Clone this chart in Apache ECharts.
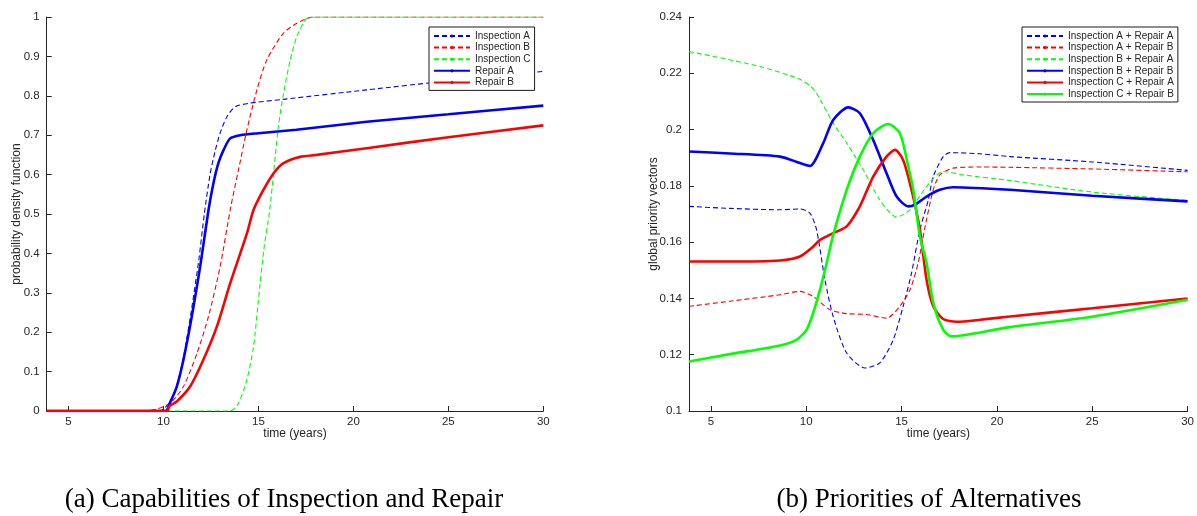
<!DOCTYPE html>
<html>
<head>
<meta charset="utf-8">
<script src="https://cdn.jsdelivr.net/npm/echarts@6/dist/echarts.min.js"></script>
<style>
  html, body { margin: 0; background: #fff; }
  #main { width: 1197px; height: 516px; }
</style>
</head>
<body>
<div id="main"></div>
<script>
// x ticks shared by both panels
var xTicks = [5, 10, 15, 20, 25, 30];

// (a) capabilities
var inspA_t = [3.85, 9.8, 10.0, 10.35, 10.7, 11.05, 11.45, 11.85, 12.15, 12.45, 12.72, 12.98, 13.34, 13.77, 14.5, 16.3, 20.7, 25, 30];
var inspA_v = [0, 0, 0.005, 0.024, 0.065, 0.135, 0.25, 0.38, 0.5, 0.6, 0.66, 0.705, 0.747, 0.772, 0.781, 0.791, 0.815, 0.838, 0.862];
var inspB_t = [3.85, 9.0, 9.65, 10.35, 11.05, 11.76, 12.37, 12.98, 13.55, 13.95, 14.39, 14.92, 15.44, 16.3, 17.02, 17.9, 30];
var inspB_v = [0, 0, 0.005, 0.02, 0.062, 0.146, 0.24, 0.366, 0.52, 0.612, 0.713, 0.815, 0.891, 0.958, 0.984, 1.0, 1.0];
var inspC_t = [3.85, 13.5, 13.95, 14.39, 14.74, 15.0, 15.28, 15.58, 15.83, 16.05, 16.32, 16.67, 17.02, 17.55, 18.0, 30];
var inspC_v = [0, 0, 0.02, 0.079, 0.163, 0.282, 0.409, 0.505, 0.62, 0.722, 0.806, 0.89, 0.95, 0.997, 1.0, 1.0];
var repA_t = [3.85, 10.1, 10.35, 10.7, 11.05, 11.49, 11.93, 12.37, 12.63, 12.89, 13.16, 13.51, 14.04, 15, 17, 20.7, 25, 30];
var repA_v = [0, 0, 0.022, 0.062, 0.13, 0.24, 0.366, 0.51, 0.578, 0.629, 0.662, 0.692, 0.70, 0.705, 0.714, 0.734, 0.753, 0.775];
var repB_t = [3.85, 10.2, 10.3, 10.7, 11.4, 12.1, 12.81, 13.51, 14.39, 14.74, 15.26, 15.79, 16.32, 17.19, 18.07, 20.7, 25, 30];
var repB_v = [0, 0, 0.012, 0.024, 0.062, 0.13, 0.214, 0.324, 0.45, 0.51, 0.561, 0.603, 0.629, 0.645, 0.65, 0.667, 0.695, 0.725];

// (b) priorities
var iaRa_t = [3.85, 6, 8.62, 9.67, 10.19, 10.54, 10.98, 11.41, 12.12, 13.08, 13.86, 14.56, 15.08, 15.52, 15.96, 16.4, 16.66, 17.18, 17.53, 19.11, 20.68, 25, 30];
var iaRa_v = [0.1727, 0.172, 0.1715, 0.1718, 0.1703, 0.1644, 0.1466, 0.1336, 0.1206, 0.1153, 0.1171, 0.1253, 0.1372, 0.149, 0.1644, 0.175, 0.1833, 0.1904, 0.1918, 0.1914, 0.1904, 0.1885, 0.1855];
var iaRb_t = [3.85, 6, 8.62, 9.67, 10.36, 11.24, 12.12, 13.16, 14.21, 14.91, 15.44, 15.87, 16.2, 16.66, 17.01, 17.71, 19.11, 20.68, 25, 30];
var iaRb_v = [0.1372, 0.139, 0.1413, 0.1425, 0.1407, 0.136, 0.1346, 0.1343, 0.133, 0.1372, 0.1431, 0.1526, 0.1644, 0.1786, 0.1839, 0.1863, 0.1867, 0.1866, 0.186, 0.185];
var ibRa_t = [3.85, 5.5, 7.57, 9.0, 9.67, 10.2, 10.54, 11.41, 12.12, 12.99, 13.86, 14.74, 15.44, 16.31, 17.18, 18.23, 20.68, 25, 30];
var ibRa_v = [0.2277, 0.2255, 0.2224, 0.2195, 0.2179, 0.2155, 0.2129, 0.2023, 0.1952, 0.1857, 0.175, 0.1689, 0.1715, 0.1798, 0.1851, 0.1839, 0.1819, 0.1778, 0.1748];
var ibRb_t = [3.85, 6, 8.62, 9.67, 10.19, 10.89, 11.41, 12.2, 12.81, 13.51, 14.21, 14.74, 15.35, 15.7, 16.31, 17.01, 17.71, 20.68, 25, 30];
var ibRb_v = [0.1922, 0.1915, 0.1904, 0.1881, 0.1871, 0.1952, 0.2034, 0.2079, 0.2058, 0.1963, 0.1845, 0.1762, 0.1727, 0.1733, 0.1762, 0.1786, 0.1795, 0.1786, 0.1765, 0.1745];
var icRa_t = [3.85, 6, 8.62, 9.67, 10.36, 10.72, 11.41, 12.12, 12.81, 13.51, 14.21, 14.65, 15.08, 15.52, 15.96, 16.31, 16.66, 17.18, 17.88, 19.11, 20.68, 25, 30];
var icRa_v = [0.1531, 0.1531, 0.1535, 0.1549, 0.1584, 0.1608, 0.1632, 0.1656, 0.1727, 0.1833, 0.1904, 0.1928, 0.1892, 0.1786, 0.1644, 0.1466, 0.1372, 0.1327, 0.1317, 0.1324, 0.1336, 0.1365, 0.140];
var icRb_t = [3.85, 6, 8.62, 9.49, 10.02, 10.36, 10.72, 11.07, 11.41, 12.12, 12.81, 13.51, 14.3, 14.91, 15.35, 15.61, 15.96, 16.31, 16.66, 17.18, 17.62, 18.41, 20.68, 25, 30];
var icRb_v = [0.1176, 0.1202, 0.1233, 0.1253, 0.1289, 0.1348, 0.1431, 0.1526, 0.1625, 0.1786, 0.1904, 0.1987, 0.202, 0.1987, 0.1869, 0.1786, 0.162, 0.1526, 0.1384, 0.1289, 0.1265, 0.1271, 0.1298, 0.1335, 0.1395];

var BLUE = "#0000ff", RED = "#ff0000", GREEN = "#00ff00", INK = "#262626";
var FONT = "'Liberation Sans', Arial, Helvetica, sans-serif";
var CAPTION_FONT = "27px 'Liberation Serif', 'DejaVu Serif', serif";

function pairs(t, v) {
  return t.map(function (x, i) { return [x, v[i]]; });
}

function dashed(name, color, t, v, idx) {
  return {
    name: name, type: "line", xAxisIndex: idx, yAxisIndex: idx,
    data: pairs(t, v), smooth: 0.25,
    symbol: "none", lineStyle: { color: color, width: 1.1, type: [5, 3] },
    itemStyle: { color: color }
  };
}

function solid(name, color, t, v, idx) {
  return {
    name: name, type: "line", xAxisIndex: idx, yAxisIndex: idx,
    data: pairs(t, v), smooth: 0.25,
    symbol: "circle", symbolSize: 3, showSymbol: false,
    lineStyle: { color: color, width: 2.6 },
    itemStyle: { color: color }
  };
}

function xAxisOf(idx) {
  return {
    type: "value", gridIndex: idx, min: 3.85, max: 30,
    name: "time (years)", nameLocation: "middle", nameGap: 17, nameMoveOverlap: false,
    nameTextStyle: { color: INK, fontSize: 12, fontFamily: FONT },
    axisLine: { lineStyle: { color: INK, width: 1 } },
    axisTick: { inside: true, length: 5, customValues: xTicks, lineStyle: { color: INK } },
    axisLabel: { customValues: xTicks, color: INK, fontSize: 11.5, fontFamily: FONT, margin: 5 },
    splitLine: { show: false }
  };
}

function yAxisOf(idx, min, max, step, name, gap) {
  return {
    type: "value", gridIndex: idx, min: min, max: max, interval: step,
    name: name, nameLocation: "middle", nameGap: gap, nameMoveOverlap: false,
    nameTextStyle: { color: INK, fontSize: 12, fontFamily: FONT },
    axisLine: { show: true, lineStyle: { color: INK, width: 1 } },
    axisTick: { show: true, inside: true, length: 5, lineStyle: { color: INK } },
    axisLabel: { color: INK, fontSize: 11.5, fontFamily: FONT, margin: 7 },
    splitLine: { show: false }
  };
}

function legendOf(left, names) {
  return {
    orient: "vertical", left: left, top: 27,
    data: names,
    backgroundColor: "#fff", borderColor: "#1a1a1a", borderWidth: 1,
    padding: [4, 4, 3, 4], itemWidth: 36, itemHeight: 4, itemGap: 1.6,
    textStyle: { color: INK, fontSize: 10, fontFamily: FONT, lineHeight: 10 },
    selectedMode: false
  };
}

var chart = echarts.init(document.getElementById("main"));
chart.setOption({
  animation: false,
  backgroundColor: "#fff",
  grid: [
    { left: 46.7, right: 653.7, top: 17, bottom: 105 },
    { left: 689, right: 9.3, top: 17, bottom: 105 }
  ],
  xAxis: [xAxisOf(0), xAxisOf(1)],
  yAxis: [
    yAxisOf(0, 0, 1, 0.1, "probability density function", 24),
    yAxisOf(1, 0.1, 0.24, 0.02, "global priority vectors", 29)
  ],
  legend: [
    legendOf(429, ["Inspection A", "Inspection B", "Inspection C", "Repair A", "Repair B"]),
    legendOf(1022, ["Inspection A + Repair A", "Inspection A + Repair B", "Inspection B + Repair A",
                    "Inspection B + Repair B", "Inspection C + Repair A", "Inspection C + Repair B"])
  ],
  series: [
    dashed("Inspection A", BLUE, inspA_t, inspA_v, 0),
    dashed("Inspection B", RED, inspB_t, inspB_v, 0),
    dashed("Inspection C", GREEN, inspC_t, inspC_v, 0),
    solid("Repair A", BLUE, repA_t, repA_v, 0),
    solid("Repair B", RED, repB_t, repB_v, 0),
    dashed("Inspection A + Repair A", BLUE, iaRa_t, iaRa_v, 1),
    dashed("Inspection A + Repair B", RED, iaRb_t, iaRb_v, 1),
    dashed("Inspection B + Repair A", GREEN, ibRa_t, ibRa_v, 1),
    solid("Inspection B + Repair B", BLUE, ibRb_t, ibRb_v, 1),
    solid("Inspection C + Repair A", RED, icRa_t, icRa_v, 1),
    solid("Inspection C + Repair B", GREEN, icRb_t, icRb_v, 1)
  ],
  graphic: [
    { type: "text", x: 284, y: 500, style: { text: "(a) Capabilities of Inspection and Repair",
      fill: "#000", font: CAPTION_FONT, textAlign: "center", textVerticalAlign: "middle" } },
    { type: "text", x: 929, y: 500, style: { text: "(b) Priorities of Alternatives",
      fill: "#000", font: CAPTION_FONT, textAlign: "center", textVerticalAlign: "middle" } }
  ]
});
window.addEventListener("resize", function () { chart.resize(); });
</script>
</body>
</html>
